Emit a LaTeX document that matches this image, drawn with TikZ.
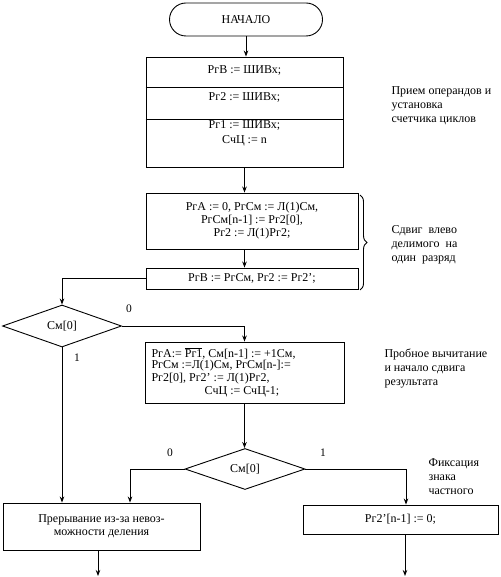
\documentclass[tikz,border=0pt]{standalone}
\usepackage{fontspec}
\setmainfont{Liberation Serif}
\usetikzlibrary{shapes.geometric,shapes.misc,arrows.meta,decorations.pathreplacing,calc}
\begin{document}
\begin{tikzpicture}[x=1pt,y=-1pt,
  every node/.style={font=\fontsize{12}{13}\selectfont},
  box/.style={draw, line width=0.9pt, rectangle, inner sep=0pt, align=center},
  term/.style={draw, line width=0.9pt, rounded rectangle, inner sep=0pt, minimum width=153pt, minimum height=33pt},
  dia/.style={draw, diamond, inner sep=0pt, line width=0.9pt},
  conn/.style={line width=0.9pt},
  arr/.style={conn, -{Stealth[length=6pt,width=4.5pt]}},
  side/.style={align=left, anchor=west, font=\fontsize{12}{14}\selectfont},
  lbl/.style={font=\fontsize{11.5}{13}\selectfont}]
\useasboundingbox (0,0) rectangle (500,577);

\node[term] (start) at (246,19.5) {НАЧАЛО};

\node[box, minimum width=197pt, minimum height=110pt] (b1) at (244.5,112) {};
\draw[conn] (b1.west |- 0,87) -- (b1.east |- 0,87);
\draw[conn] (b1.west |- 0,119) -- (b1.east |- 0,119);
\node (t1) at (244.5,70) {РгВ := ШИВх;};
\node (t2) at (244.5,97) {Рг2 := ШИВх;};
\node (t3) at (244.5,125) {Рг1 := ШИВх;};
\node (t4) at (244.5,141) {СчЦ := n};

\node[box, minimum width=212pt, minimum height=56pt] (b2) at (252,221) {РгА := 0, РгСм := Л(1)См,\\ РгСм[n-1] := Рг2[0],\\ Рг2 := Л(1)Рг2;};
\node[box, minimum width=212pt, minimum height=21pt] (b3) at (252,278.5) {РгВ := РгСм, Рг2 := Рг2';};
\draw[decorate, decoration={brace, amplitude=7pt}, conn] (360,195) -- (360,290);

\node[dia, minimum width=119pt, minimum height=42pt] (d1) at (62,326) {См[0]};

\node[box, minimum width=199pt, minimum height=61pt] (b4) at (244.5,372.5) {};
\node[anchor=west] (u1) at (148,353) {РгА:= $\overline{\hbox{Рг1}}$, См[n-1] := +1См,};
\node[anchor=west] (u2) at (148,366) {РгСм :=Л(1)См, РгСм[n-]:=};
\node[anchor=west] (u3) at (148,379) {Рг2[0], Рг2' := Л(1)Рг2,};
\node (u4) at (242,392) {СчЦ := СчЦ-1;};

\node[dia, minimum width=120pt, minimum height=41pt] (d2) at (245,469) {См[0]};

\node[box, minimum width=197pt, minimum height=47pt] (b5) at (101.5,526.5) {Прерывание из-за невоз-\\можности деления};
\node[box, minimum width=195pt, minimum height=29pt] (b6) at (400.5,519.5) {Рг2'[n-1] := 0;};

\draw[arr] (start.south) -- (start.south |- b1.north);
\draw[arr] (b1.south) -- (b1.south |- b2.north);
\draw[arr] (b1.south |- b2.south) -- (b1.south |- b3.north);
\draw[arr] (b3.west) -| (d1.north);
\draw[arr] (d1.east) -| (b4.north);
\draw[arr] (d1.south) -- (d1.south |- b5.north);
\draw[arr] (b4.south) -- (b4.south |- d2.north);
\draw[arr] (d2.west) -| ($(b5.north)+(28.5,0)$);
\draw[arr] (d2.east) -| ($(b6.north)+(5.5,0)$);
\coordinate (e5) at (98,576);
\coordinate (e6) at (405,576);
\draw[arr] (b5.south -| e5) -- (e5);
\draw[arr] (b6.south -| e6) -- (e6);

\node[lbl] (l0a) at (129,309) {0};
\node[lbl] (l1a) at (77,358) {1};
\node[lbl] (l0b) at (170,453) {0};
\node[lbl] (l1b) at (323,453) {1};

\node[side] (s1) at (388,106) {Прием операндов\ и\\установка\\счетчика циклов};
\node[side] (s2) at (388,245) {Сдвиг\ \ влево\\делимого\ \ на\\один\ \ разряд};
\node[side] (s3) at (381,368) {Пробное вычитание\\и начало сдвига\\результата};
\node[side] (s4) at (425,477) {Фиксация\\знака\\частного};
\end{tikzpicture}
\end{document}
